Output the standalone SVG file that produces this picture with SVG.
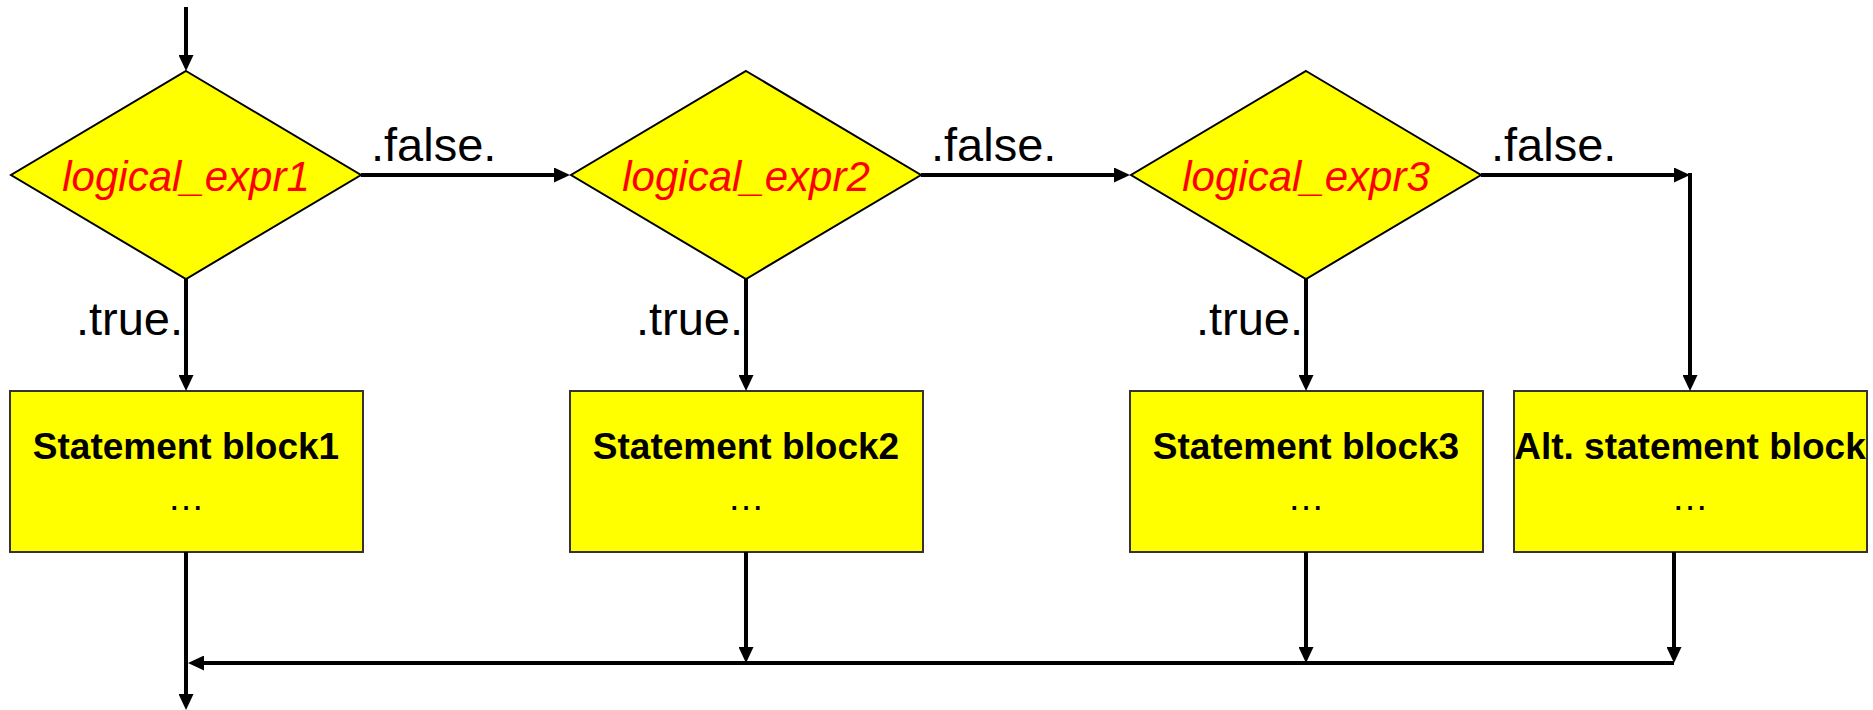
<svg xmlns="http://www.w3.org/2000/svg" width="1873" height="710" viewBox="0 0 1873 710">
  <style>
    .dia { fill: #ffff00; stroke: #000; stroke-width: 2; }
    .box { fill: #ffff00; stroke: #333; stroke-width: 2; }
    .cond { font-family: "Liberation Sans", Arial, sans-serif; font-size: 42px; font-style: italic; fill: #ff0000; text-anchor: middle; }
    .stmt { font-family: "Liberation Sans", Arial, sans-serif; font-size: 37px; font-weight: bold; fill: #000; text-anchor: middle; }
    .dots { font-family: "Liberation Sans", Arial, sans-serif; font-size: 37px; fill: #000; text-anchor: middle; }
    .lbl { font-family: "Liberation Sans", Arial, sans-serif; font-size: 47px; fill: #000; }
    .wire { fill: none; stroke: #000; stroke-width: 4; }
  </style>
  <defs>
    <marker id="arrow" markerUnits="userSpaceOnUse" markerWidth="16" markerHeight="15" refX="6" refY="7.5" orient="auto">
      <path d="M0,0 L16,7.5 L0,15 z" fill="#000"/>
    </marker>
  </defs>

  <rect width="1873" height="710" fill="#fff"/>

  <!-- decision nodes -->
  <g id="cond1">
    <polygon class="dia" points="186,71 361,175 186,279 11,175"/>
    <text class="cond" x="186" y="191">logical_expr1</text>
  </g>
  <g id="cond2">
    <polygon class="dia" points="746,71 921,175 746,279 571,175"/>
    <text class="cond" x="746" y="191">logical_expr2</text>
  </g>
  <g id="cond3">
    <polygon class="dia" points="1306,71 1481,175 1306,279 1131,175"/>
    <text class="cond" x="1306" y="191">logical_expr3</text>
  </g>

  <!-- statement blocks -->
  <g id="block1">
    <rect class="box" x="10" y="391" width="353" height="161"/>
    <text class="stmt" x="186" y="459">Statement block1</text>
    <text class="dots" x="186" y="510">…</text>
  </g>
  <g id="block2">
    <rect class="box" x="570" y="391" width="353" height="161"/>
    <text class="stmt" x="746" y="459">Statement block2</text>
    <text class="dots" x="746" y="510">…</text>
  </g>
  <g id="block3">
    <rect class="box" x="1130" y="391" width="353" height="161"/>
    <text class="stmt" x="1306" y="459">Statement block3</text>
    <text class="dots" x="1306" y="510">…</text>
  </g>
  <g id="alt-block">
    <rect class="box" x="1514" y="391" width="353" height="161"/>
    <text class="stmt" x="1690" y="459">Alt. statement block</text>
    <text class="dots" x="1690" y="510">…</text>
  </g>

  <!-- connectors -->
  <g id="connectors">
    <path class="wire" d="M186,7 V61" marker-end="url(#arrow)"/>
    <path class="wire" d="M361,175 H560" marker-end="url(#arrow)"/>
    <path class="wire" d="M921,175 H1120" marker-end="url(#arrow)"/>
    <path class="wire" d="M1481,175 H1680" marker-end="url(#arrow)"/>
    <path class="wire" d="M1690,173 V381" marker-end="url(#arrow)"/>
    <path class="wire" d="M186,279 V381" marker-end="url(#arrow)"/>
    <path class="wire" d="M746,279 V381" marker-end="url(#arrow)"/>
    <path class="wire" d="M1306,279 V381" marker-end="url(#arrow)"/>
    <path class="wire" d="M186,552 V700" marker-end="url(#arrow)"/>
    <path class="wire" d="M746,552 V653" marker-end="url(#arrow)"/>
    <path class="wire" d="M1306,552 V653" marker-end="url(#arrow)"/>
    <path class="wire" d="M1674,552 V653" marker-end="url(#arrow)"/>
    <path class="wire" d="M1674,663 H198" marker-end="url(#arrow)"/>

    <text class="lbl" x="371" y="161">.false.</text>
    <text class="lbl" x="931" y="161">.false.</text>
    <text class="lbl" x="1491" y="161">.false.</text>
    <text class="lbl" x="183" y="335" text-anchor="end">.true.</text>
    <text class="lbl" x="743" y="335" text-anchor="end">.true.</text>
    <text class="lbl" x="1303" y="335" text-anchor="end">.true.</text>
  </g>
</svg>
